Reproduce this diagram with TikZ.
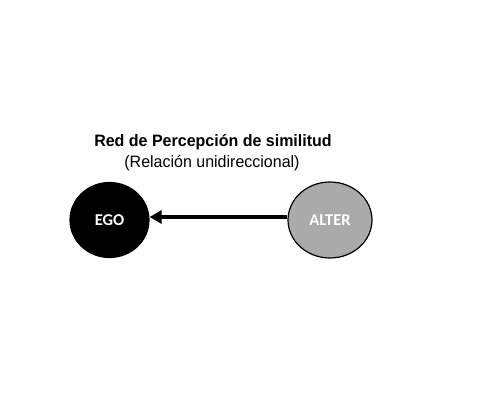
\documentclass[tikz,border=0pt]{standalone}
\usepackage{fontspec}
\setmainfont{Liberation Sans}
\newfontfamily\nodefont{Carlito}
\usetikzlibrary{shapes.geometric,arrows.meta}

\definecolor{altergray}{RGB}{170,170,170}

\tikzset{
  actor/.style={ellipse, draw=black, line width=1.2pt, inner sep=0pt,
    text=white, font=\nodefont\bfseries\fontsize{16.5}{19}\selectfont},
  tie/.style={line width=3.6pt, -{Triangle[length=12pt,width=13pt]}}
}

\begin{document}
\begin{tikzpicture}[x=1pt,y=-1pt]
\useasboundingbox (0,0) rectangle (480,412);

\node[font=\bfseries\fontsize{16.5}{19}\selectfont, xscale=0.97, transform shape] (title) at (213,142) {Red de Percepción de similitud};
\node[font=\fontsize{16.5}{19}\selectfont, xscale=0.97, transform shape] (subtitle) at (212,163) {(Relación unidireccional)};

\node[actor, fill=black, minimum width=79pt, minimum height=75pt] (ego) at (109.5,220) {EGO};
\node[actor, fill=altergray, minimum width=84pt, minimum height=76pt] (alter) at (330,220) {ALTER};

\draw[tie] ([yshift=3pt]alter.west) -- ([yshift=3pt]ego.east);

\end{tikzpicture}
\end{document}
